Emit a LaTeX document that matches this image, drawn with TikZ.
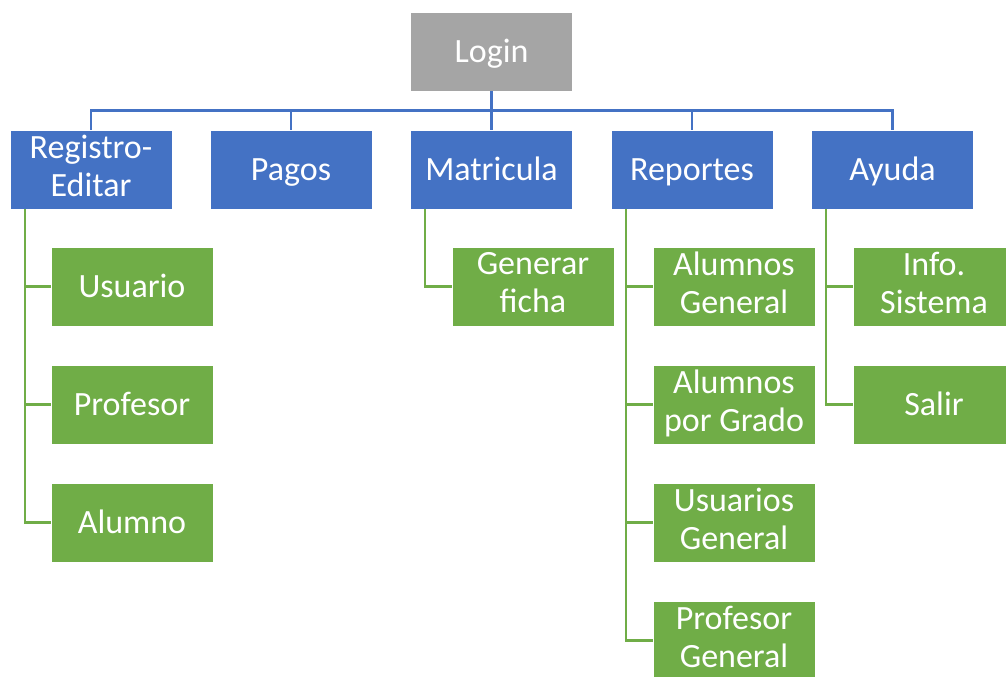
\documentclass[tikz,border=0pt]{standalone}
\usepackage{fontspec}
\setmainfont{Carlito}
\usepackage{xcolor}
\definecolor{loginGray}{HTML}{A5A5A5}
\definecolor{menuBlue}{HTML}{4472C4}
\definecolor{subGreen}{HTML}{70AD47}
\newcommand\boxtop{\rule{0pt}{22.5pt}}
\newcommand\boxbot{\rule[-6pt]{0pt}{6pt}}
\tikzset{
  box/.style={draw=white, line width=0.6pt, text=white, inner sep=0pt,
    minimum width=121.5pt, minimum height=59.25pt, align=center,
    execute at begin node=\boxtop, execute at end node=\boxbot,
    font=\fontsize{25.5}{28.5}\selectfont},
  loginbox/.style={box, fill=loginGray},
  menubox/.style={box, fill=menuBlue},
  subbox/.style={box, fill=subGreen},
  blueline/.style={draw=menuBlue, line width=1.8pt},
  greenline/.style={draw=subGreen, line width=1.6pt}
}
\begin{document}
\begin{tikzpicture}[x=0.75pt, y=-0.75pt]
		\useasboundingbox (0,0) rectangle (1006,677);
		\clip (0,0) rectangle (1006,677);
		% top level
		\node[loginbox] (login) at (491.5,51.5) {Login};
		% menu row
		\node[menubox] (reg) at (91,169.5) {Registro-\\Editar};
		\node[menubox] (pag) at (291,169.5) {Pagos};
		\node[menubox] (mat) at (491.5,169.5) {Matricula};
		\node[menubox] (rep) at (692,169.5) {Reportes};
		\node[menubox] (ayu) at (892.5,169.5) {Ayuda};
		\foreach \m in {reg,pag,mat,rep,ayu}
			\draw[blueline] (login.south) -- ++(0,19) -| (\m.north);
		% Registro-Editar
		\node[subbox] (usu) at (132,286.5) {Usuario};
		\node[subbox] (prof) at (132,404.5) {Profesor};
		\node[subbox] (alu) at (132,522.5) {Alumno};
		\foreach \s in {usu,prof,alu}
			\draw[greenline] (reg.south west) ++(15,0) |- (\s.west);
		% Matricula
		\node[subbox] (fic) at (533,286.5) {Generar\\ficha};
		\draw[greenline] (mat.south west) ++(15,0) |- (fic.west);
		% Reportes
		\node[subbox] (alg) at (734,286.5) {Alumnos\\General};
		\node[subbox] (alp) at (734,404.5) {Alumnos\\por Grado};
		\node[subbox] (usg) at (734,522.5) {Usuarios\\General};
		\node[subbox] (prg) at (734,640.5) {Profesor\\General};
		\foreach \s in {alg,alp,usg,prg}
			\draw[greenline] (rep.south west) ++(15,0) |- (\s.west);
		% Ayuda
		\node[subbox] (inf) at (934,286.5) {Info.\\Sistema};
		\node[subbox] (sal) at (934,404.5) {Salir};
		\foreach \s in {inf,sal}
			\draw[greenline] (ayu.south west) ++(15,0) |- (\s.west);
	\end{tikzpicture}
\end{document}
